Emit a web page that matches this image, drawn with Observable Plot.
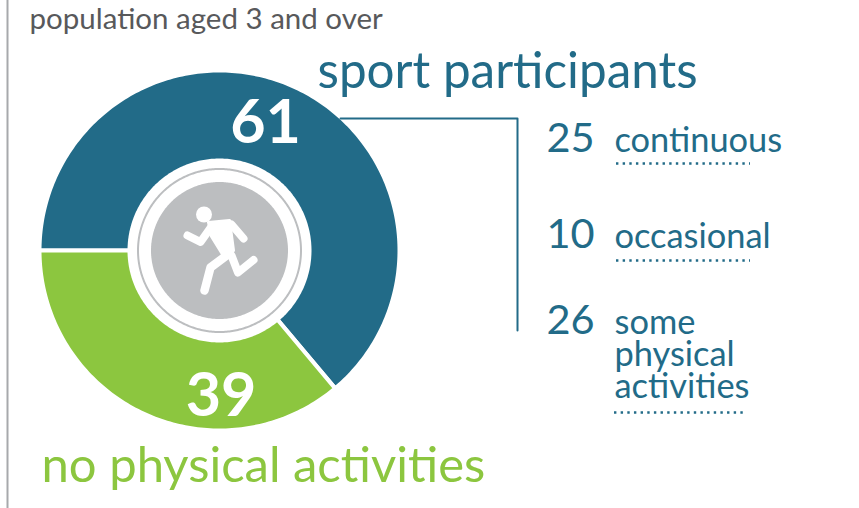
<!DOCTYPE html>
<html><head><meta charset="utf-8">
<script src="https://cdn.jsdelivr.net/npm/d3@7"></script>
<script src="https://cdn.jsdelivr.net/npm/@observablehq/plot@0.6"></script>
<style>html,body{margin:0;padding:0;background:#fff}svg{display:block}</style>
</head><body><div id="chart"></div>
<script>
// --- chart content ---
const subtitle = "population aged 3 and over";
const mainCategories = ["sport participants", "no physical activities"];
const mainValues = [61, 39];
const sliceDegreesAsDrawn = [230, 130];   // the reference's slices
const subCategories = ["continuous", "occasional", "some\nphysical\nactivities"];
const subValues = [25, 10, 26];

// --- layout ---
const W = 859, H = 508, font = "Lato, Carlito, sans-serif";
const BLUE = "#226b88", GREEN = "#8cc63f", GREY = "#bcbec0";
const cx = 219, cy = 250;
const subY = [151, 247, 333], subRule = [163, 260, 412], subRuleX = [[616, 750], [616, 750], [614, 747]];

function ring(startDeg, sweepDeg, r) {
  const n = Math.ceil(sweepDeg), pts = [[cx, cy]];
  for (let i = 0; i <= n; i++) {
    const a = (startDeg + sweepDeg * i / n) * Math.PI / 180;
    pts.push([cx + r * Math.sin(a), cy - r * Math.cos(a)]);
  }
  return pts;
}
const circle = (r) => ring(0, 360, r).slice(1);

const closedShape = (pts, opts) => Plot.line(pts, {x: d => d[0], y: d => d[1], curve: "linear-closed", ...opts});
const label = (t, x, y, size, fill, extra = {}) =>
  Plot.text([t], {x: () => x, y: () => y, text: d => d, textAnchor: "start", lineAnchor: "bottom",
                  fontSize: size, fill, fontFamily: font, ...extra});
const limb = (pts, w = 8) => Plot.line(pts, {x: d => d[0], y: d => d[1], stroke: "#fff", strokeWidth: w,
                  strokeLinecap: "round", strokeLinejoin: "round"});

// pictogram in the centre of the ring
const runnerBackArm = [[211, 226], [200, 241.5], [187, 235]];
const runnerFrontArm = [[231, 224], [243, 238]];
const runnerBackLeg = [[226, 255], [210, 267], [204, 290]];
const runnerFrontLeg = [[231, 255], [237.5, 272], [253, 259.5]];
const runnerTorso = [[208, 222], [229, 220], [233, 250], [224, 257], [211, 236]];
const runnerHead = [[203.5, 214]];

const start = 270;
const plot = Plot.plot({
  width: W, height: H, margin: 0,
  style: {background: "#fff", fontFamily: font},
  x: {domain: [0, W], range: [0, W], axis: null},
  y: {domain: [0, H], range: [0, H], axis: null},
  marks: [
    Plot.ruleX([7], {y1: 0, y2: 508, stroke: "#a7a9ac", strokeWidth: 2}),
    closedShape(ring(start, sliceDegreesAsDrawn[0], 180), {fill: BLUE, stroke: "#fff", strokeWidth: 4}),
    closedShape(ring(start + sliceDegreesAsDrawn[0], sliceDegreesAsDrawn[1], 180), {fill: GREEN, stroke: "#fff", strokeWidth: 4}),
    closedShape(circle(92), {fill: "#fff"}),
    closedShape(circle(81.5), {fill: "none", stroke: GREY, strokeWidth: 2}),
    closedShape(circle(68.5), {fill: GREY}),
    closedShape(runnerTorso, {fill: "#fff", stroke: "#fff", strokeWidth: 3, strokeLinejoin: "round"}),
    limb(runnerBackArm), limb(runnerFrontArm), limb(runnerBackLeg, 8.5), limb(runnerFrontLeg),
    Plot.dot(runnerHead, {x: d => d[0], y: d => d[1], r: 8, fill: "#fff"}),
    // leader
    Plot.line([[340, 118], [517, 118], [517, 330]], {x: d => d[0], y: d => d[1], stroke: BLUE, strokeWidth: 2}),
    // headings
    label(subtitle, 29, 28, 29.5, "#58595b"),
    label(mainCategories[0], 317, 87, 49.4, BLUE),
    label(mainCategories[1], 41, 481, 49, GREEN),
    label(String(mainValues[0]), 265, 142, 61, "#fff", {textAnchor: "middle", fontWeight: 700}),
    label(String(mainValues[1]), 220.5, 415, 61, "#fff", {textAnchor: "middle", fontWeight: 700}),
    // breakdown
    ...subValues.map((v, i) => label(String(v), 546, subY[i], 41.5, BLUE)),
    ...subCategories.map((c, i) => label(c, 614, subY[i] + (c.split("\n").length - 1) * 32, 34.4, BLUE, {lineHeight: 32 / 34.4})),
    ...subRule.map((y, i) => Plot.ruleY([y], {x1: subRuleX[i][0], x2: subRuleX[i][1], stroke: BLUE,
        strokeWidth: 2.5, strokeDasharray: "2.4 4.25"}))
  ]
});
document.getElementById("chart").append(plot);
</script></body></html>
